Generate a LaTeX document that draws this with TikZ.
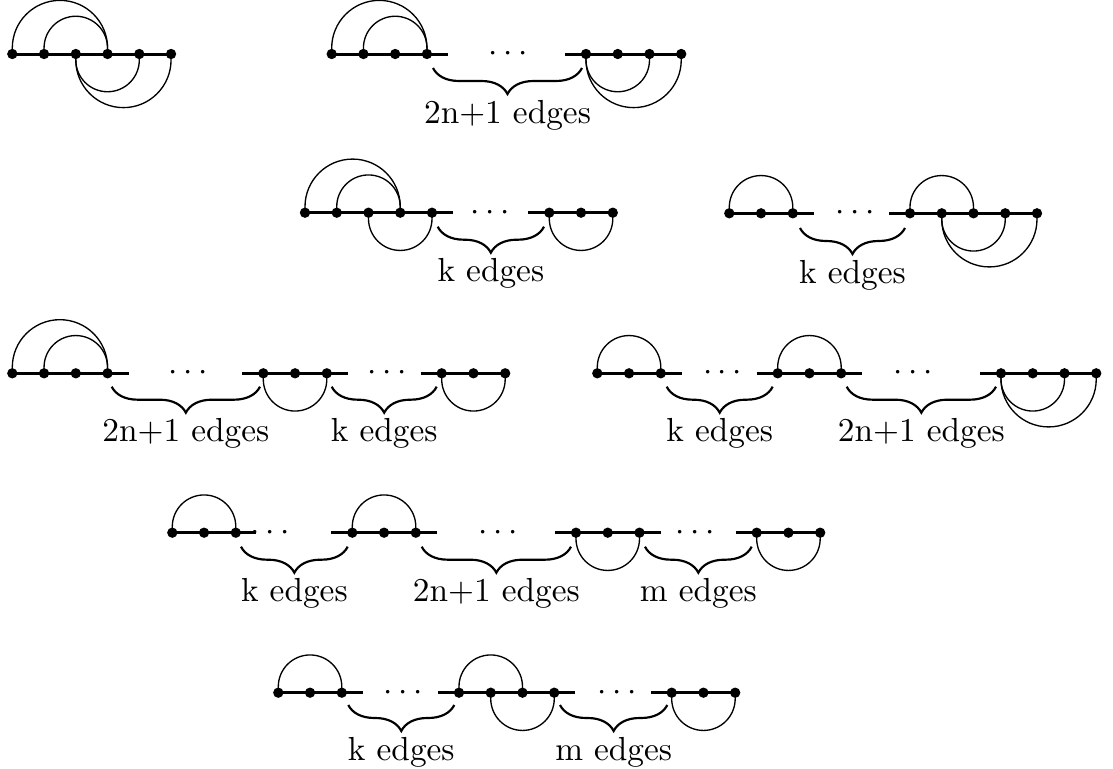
\documentclass[tikz,border=0pt]{standalone}
\usetikzlibrary{calc,decorations.pathreplacing}
\pgfdeclarelayer{bg}
\pgfsetlayers{bg,main}
\tikzset{
  dot/.style={circle,fill=black,inner sep=0pt,minimum size=3.1pt},
  edgeline/.style={line width=0.9pt},
  arcline/.style={line width=0.4pt},
  brc/.style={decorate,decoration={brace,mirror,amplitude=7.8pt},line width=0.65pt},
  lab/.style={inner sep=0.5pt},
  dd/.style={inner sep=0pt},
}
\newcommand\seg[4]{\foreach \i in {1,...,#4}{\node[dot] (#1-\i) at ({#2+31.75*(\i-1)},#3) {};}}
\newcommand\uarc[2]{\begin{pgfonlayer}{bg}\draw[arcline] let \p1=(#1.center),\p2=(#2.center) in (#1.center) -- ++(0,6) arc[start angle=180,end angle=0,radius={0.5*(\x2-\x1)}] -- (#2.center);\end{pgfonlayer}}
\newcommand\darc[2]{\begin{pgfonlayer}{bg}\draw[arcline] let \p1=(#1.center),\p2=(#2.center) in (#1.center) -- ++(0,-6) arc[start angle=180,end angle=360,radius={0.5*(\x2-\x1)}] -- (#2.center);\end{pgfonlayer}}
% line: name of first node, name of last node, left ext (pt), right ext (pt)
\newcommand\segline[4]{\begin{pgfonlayer}{bg}\draw[edgeline] ([xshift=-#3]#1.center) -- ([xshift=#4]#2.center);\end{pgfonlayer}}
\newcommand\mybrc[5]{\coordinate (#1l) at (#2,#4); \coordinate (#1r) at (#3,#4);
  \draw[brc] (#1l) -- (#1r) node[lab,midway,below=8.8pt] (#1t) {#5};}
\begin{document}
\begin{tikzpicture}[x=0.3pt,y=0.3pt]
\useasboundingbox (0,0) rectangle (1113,-769);
% ---- Figure A
\seg{A}{12.3}{-54}{6}
\segline{A-1}{A-6}{0pt}{0pt}
\uarc{A-1}{A-4}\uarc{A-2}{A-4}
\darc{A-3}{A-5}\darc{A-3}{A-6}
% ---- Figure B
\seg{Ba}{331.7}{-54}{4}
\seg{Bb}{586}{-54}{4}
\segline{Ba-1}{Ba-4}{0pt}{6.3pt}
\segline{Bb-1}{Bb-4}{6.3pt}{0pt}
\node[dd] (Bd) at (508,-54) {$\cdots$};
\uarc{Ba-1}{Ba-4}\uarc{Ba-2}{Ba-4}
\darc{Bb-1}{Bb-3}\darc{Bb-1}{Bb-4}
\mybrc{Bx}{433}{582}{-68}{2n+1 edges}
% ---- Figure C
\seg{Ca}{305}{-212.7}{5}
\seg{Cb}{549.3}{-212.7}{3}
\segline{Ca-1}{Ca-5}{0pt}{6.3pt}
\segline{Cb-1}{Cb-3}{6.3pt}{0pt}
\node[dd] (Cd) at (490,-212.7) {$\cdots$};
\uarc{Ca-1}{Ca-4}\uarc{Ca-2}{Ca-4}
\darc{Ca-3}{Ca-5}\darc{Cb-1}{Cb-3}
\mybrc{Cx}{437.7}{544}{-226.7}{k edges}
% ---- Figure D
\seg{Da}{729.3}{-213.3}{3}
\seg{Db}{910}{-213.3}{5}
\segline{Da-1}{Da-3}{0pt}{6.3pt}
\segline{Db-1}{Db-5}{6.3pt}{0pt}
\node[dd] (Dd) at (855,-213.3) {$\cdots$};
\uarc{Da-1}{Da-3}\uarc{Db-1}{Db-3}
\darc{Db-2}{Db-4}\darc{Db-2}{Db-5}
\mybrc{Dx}{800}{905}{-228}{k edges}
% ---- Figure E
\seg{Ea}{12.3}{-373.3}{4}
\seg{Eb}{263.3}{-373.3}{3}
\seg{Ec}{441.7}{-373.3}{3}
\segline{Ea-1}{Ea-4}{0pt}{6.3pt}
\segline{Eb-1}{Eb-3}{6.3pt}{6.3pt}
\segline{Ec-1}{Ec-3}{6.3pt}{0pt}
\node[dd] (Ed1) at (188,-373.3) {$\cdots$};
\node[dd] (Ed2) at (387,-373.3) {$\cdots$};
\uarc{Ea-1}{Ea-4}\uarc{Ea-2}{Ea-4}
\darc{Eb-1}{Eb-3}\darc{Ec-1}{Ec-3}
\mybrc{Ex1}{111.7}{260}{-386.7}{2n+1 edges}
\mybrc{Ex2}{331.7}{436.7}{-386.7}{k edges}
% ---- Figure F
\seg{Fa}{597.3}{-373.3}{3}
\seg{Fb}{777.7}{-373.3}{3}
\seg{Fc}{1001}{-373.3}{4}
\segline{Fa-1}{Fa-3}{0pt}{6.3pt}
\segline{Fb-1}{Fb-3}{6.3pt}{6.3pt}
\segline{Fc-1}{Fc-4}{6.3pt}{0pt}
\node[dd] (Fd1) at (722.5,-373.3) {$\cdots$};
\node[dd] (Fd2) at (913,-373.3) {$\cdots$};
\uarc{Fa-1}{Fa-3}\uarc{Fb-1}{Fb-3}
\darc{Fc-1}{Fc-3}\darc{Fc-1}{Fc-4}
\mybrc{Fx1}{666.7}{772.7}{-386.7}{k edges}
\mybrc{Fx2}{846.7}{996}{-386.7}{2n+1 edges}
% ---- Figure G
\seg{Ga}{172.3}{-532.7}{3}
\seg{Gb}{352.3}{-532.7}{3}
\seg{Gc}{576}{-532.7}{3}
\seg{Gd}{756.7}{-532.7}{3}
\segline{Ga-1}{Ga-3}{0pt}{6pt}
\segline{Gb-1}{Gb-3}{6.3pt}{6.3pt}
\segline{Gc-1}{Gc-3}{6.3pt}{6.3pt}
\segline{Gd-1}{Gd-3}{6.3pt}{0pt}
\node[dd] (Gd1) at (270,-532.7) {$\cdots$};
\node[dd] (Gd2) at (498,-532.7) {$\cdots$};
\node[dd] (Gd3) at (695,-532.7) {$\cdots$};
\uarc{Ga-1}{Ga-3}\uarc{Gb-1}{Gb-3}
\darc{Gc-1}{Gc-3}\darc{Gd-1}{Gd-3}
\mybrc{Gx1}{241}{347.7}{-546.7}{k edges}
\mybrc{Gx2}{421.7}{571}{-546.7}{2n+1 edges}
\mybrc{Gx3}{645}{751.7}{-546.7}{m edges}
% ---- Figure H
\seg{Ha}{278.3}{-692.7}{3}
\seg{Hb}{459}{-692.7}{4}
\seg{Hc}{671.7}{-692.7}{3}
\segline{Ha-1}{Ha-3}{0pt}{6.3pt}
\segline{Hb-1}{Hb-4}{6.3pt}{6.3pt}
\segline{Hc-1}{Hc-3}{6.3pt}{0pt}
\node[dd] (Hd1) at (403,-692.7) {$\cdots$};
\node[dd] (Hd2) at (617,-692.7) {$\cdots$};
\uarc{Ha-1}{Ha-3}\uarc{Hb-1}{Hb-3}
\darc{Hb-2}{Hb-4}\darc{Hc-1}{Hc-3}
\mybrc{Hx1}{348.3}{454.3}{-705}{k edges}
\mybrc{Hx2}{560}{667.3}{-705}{m edges}
\end{tikzpicture}
\end{document}
